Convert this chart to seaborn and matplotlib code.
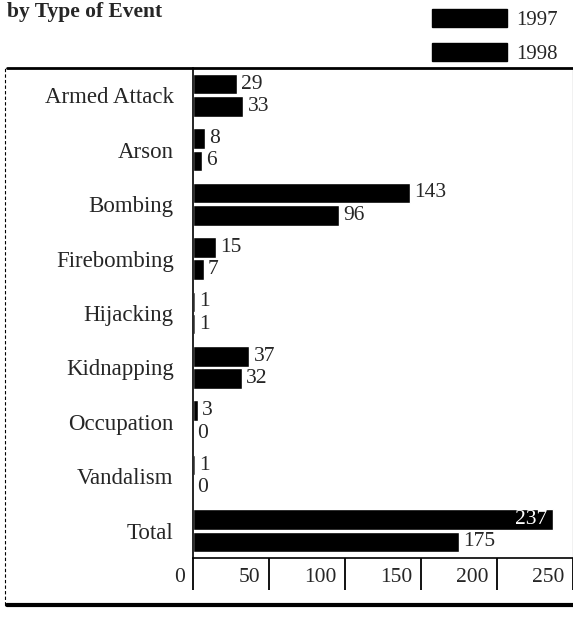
import pandas as pd
import matplotlib.pyplot as plt
import seaborn as sns
from matplotlib.lines import Line2D
from matplotlib.patches import Patch
from matplotlib.transforms import ScaledTranslation

categories = ['Armed Attack', 'Arson', 'Bombing', 'Firebombing', 'Hijacking',
              'Kidnapping', 'Occupation', 'Vandalism', 'Total']
events_1997 = [29, 8, 143, 15, 1, 37, 3, 1, 237]
events_1998 = [33, 6, 96, 7, 1, 32, 0, 0, 175]
years = ['1997', '1998']
x_ticks = [0, 50, 100, 150, 200, 250]

df = pd.DataFrame({
    'event': categories * 2,
    'count': events_1997 + events_1998,
    'year': [years[0]] * len(categories) + [years[1]] * len(categories),
})

sns.set_style('white')
plt.rcParams['font.family'] = ['Liberation Serif', 'DejaVu Serif']

fig = plt.figure(figsize=(5.73, 6.18), dpi=100)
ax = fig.add_axes([0.337, 0.097, 0.663, 0.793])

sns.barplot(data=df, x='count', y='event', hue='year', order=categories,
            hue_order=years, palette=['black', 'black'], orient='h',
            width=0.82, gap=0.08, legend=False, ax=ax)

for cont in ax.containers:
    texts = ax.bar_label(cont, padding=3, fontsize=15.5)
    for t in texts:
        t.set_va('center')

# the big 1997 total sits inside its bar, in white
total_txt = ax.texts[len(categories) - 1]
total_txt.set_color('white')
total_txt.set_ha('right')
total_txt.xyann = (-4, 0)

ax.set_xlim(0, 250)
ax.set_ylim(len(categories) - 0.5, -0.5)
ax.set_xlabel('')
ax.set_ylabel('')
ax.set_xticks(x_ticks)
ax.set_xticklabels([str(v) for v in x_ticks], fontsize=15.5)
ax.tick_params(axis='y', length=0, labelsize=16.5, pad=14)
ax.tick_params(axis='x', bottom=True, direction='out', length=23, width=1.3,
               pad=-16, color='black')
shift = ScaledTranslation(-6 / 72, 0, fig.dpi_scale_trans)
for lab in ax.get_xticklabels():
    lab.set_ha('right')
    lab.set_va('top')
    lab.set_transform(lab.get_transform() + shift)

for side in ['left', 'bottom', 'right']:
    ax.spines[side].set_visible(True)
    ax.spines[side].set_color('black')
ax.spines['left'].set_linewidth(1.2)
ax.spines['bottom'].set_linewidth(1.2)
ax.spines['right'].set_linewidth(0.8)
ax.spines['top'].set_visible(False)

# frame lines of the page
fig.add_artist(Line2D([0.012, 1.0], [0.89, 0.89], color='black', lw=2))
fig.add_artist(Line2D([0.012, 1.0], [0.021, 0.021], color='black', lw=3))
fig.add_artist(Line2D([0.009, 0.009], [0.021, 0.89], color='black', lw=0.8,
                      ls=(0, (3, 2))))

fig.text(0.012, 0.972, 'by Type of Event', fontsize=15.5, fontweight='bold',
         va='baseline', ha='left')

handles = [Patch(facecolor='black', edgecolor='black', label=y) for y in years]
fig.legend(handles=handles, loc='upper right', bbox_to_anchor=(0.988, 0.999),
           frameon=False, fontsize=15, handlelength=3.6, handleheight=0.95,
           handletextpad=0.45, labelspacing=0.6, borderaxespad=0)

fig.savefig('out.png', dpi=100)
